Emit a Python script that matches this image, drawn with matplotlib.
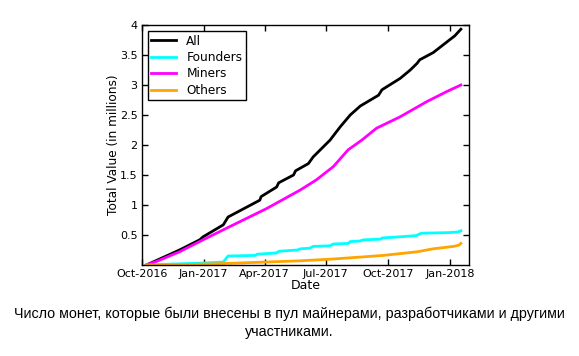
import matplotlib
matplotlib.use("Agg")
import matplotlib.pyplot as plt
import matplotlib.dates as mdates
import numpy as np
import pandas as pd

all_dates = ["2016-10-08", "2016-11-26", "2016-12-26", "2016-12-31", "2017-01-30", "2017-02-06",
             "2017-03-25", "2017-03-27", "2017-04-19", "2017-04-22", "2017-05-14", "2017-05-17",
             "2017-06-05", "2017-06-12", "2017-07-07", "2017-07-22", "2017-08-06", "2017-08-21",
             "2017-09-17", "2017-09-22", "2017-10-19", "2017-11-03", "2017-11-13", "2017-11-17",
             "2017-12-07", "2018-01-08", "2018-01-17"]
all_vals = [0.0, 0.25, 0.42, 0.47, 0.67, 0.80, 1.08, 1.14, 1.30, 1.37, 1.50, 1.57,
            1.69, 1.80, 2.08, 2.30, 2.50, 2.65, 2.83, 2.92, 3.11, 3.25, 3.36, 3.42,
            3.54, 3.82, 3.93]

miner_dates = ["2016-10-08", "2016-10-23", "2016-11-26", "2016-12-31", "2017-02-14", "2017-04-04",
               "2017-05-24", "2017-06-17", "2017-07-12", "2017-08-03", "2017-08-23", "2017-09-14",
               "2017-10-19", "2017-11-27", "2017-12-27", "2018-01-17"]
miner_vals = [0.0, 0.06, 0.22, 0.42, 0.67, 0.94, 1.25, 1.42, 1.64, 1.92, 2.08, 2.28,
              2.47, 2.72, 2.89, 3.00]

founder_dates = ["2016-10-08", "2016-11-26", "2016-12-26", "2017-01-30", "2017-02-06", "2017-03-19",
                 "2017-03-21", "2017-04-18", "2017-04-23", "2017-05-20", "2017-05-24", "2017-06-07",
                 "2017-06-12", "2017-07-07", "2017-07-12", "2017-08-03", "2017-08-06", "2017-08-20",
                 "2017-08-26", "2017-09-20", "2017-09-22", "2017-10-19", "2017-11-12", "2017-11-15",
                 "2017-11-20", "2017-12-30", "2018-01-12", "2018-01-17"]
founder_vals = [0.0, 0.02, 0.03, 0.05, 0.15, 0.16, 0.18, 0.20, 0.23, 0.25, 0.27, 0.28,
                0.31, 0.32, 0.35, 0.36, 0.39, 0.40, 0.42, 0.43, 0.45, 0.47, 0.49, 0.51,
                0.53, 0.54, 0.55, 0.57]

other_dates = ["2016-10-08", "2016-12-15", "2017-02-14", "2017-04-04", "2017-05-24", "2017-07-12",
               "2017-08-31", "2017-09-24", "2017-10-19", "2017-11-13", "2017-12-07", "2018-01-06",
               "2018-01-14", "2018-01-17"]
other_vals = [0.0, 0.01, 0.03, 0.05, 0.07, 0.10, 0.14, 0.16, 0.19, 0.22, 0.27, 0.31,
              0.33, 0.36]

x_ticks = ["2016-10-01", "2017-01-01", "2017-04-01", "2017-07-01", "2017-10-01", "2018-01-01"]
y_ticks = [0.5, 1, 1.5, 2, 2.5, 3, 3.5, 4]
y_tick_labels = ["0.5", "1", "1.5", "2", "2.5", "3", "3.5", "4"]
caption = ("Число монет, которые были внесены в пул майнерами, разработчиками и другими\n"
           "участниками.")

fig = plt.figure(figsize=(5.79, 3.56), dpi=100)
ax = fig.add_axes([0.2447, 0.2556, 0.8100 - 0.2447, 0.9298 - 0.2556])

ax.plot(pd.to_datetime(all_dates), all_vals, color="black", lw=2, label="All")
ax.plot(pd.to_datetime(founder_dates), founder_vals, color="cyan", lw=2, label="Founders")
ax.plot(pd.to_datetime(miner_dates), miner_vals, color="magenta", lw=2, label="Miners")
ax.plot(pd.to_datetime(other_dates), other_vals, color="orange", lw=2, label="Others")

ax.set_xlim(pd.Timestamp("2016-10-01"), pd.Timestamp("2018-01-29"))
ax.set_ylim(0, 4)
ax.set_xticks(pd.to_datetime(x_ticks))
ax.xaxis.set_major_formatter(mdates.DateFormatter("%b-%Y"))
ax.set_yticks(y_ticks)
ax.set_yticklabels(y_tick_labels)
ax.tick_params(direction="in", top=True, right=True, labelsize=8, length=4, width=1, pad=3)
for s in ax.spines.values():
    s.set_linewidth(1)
ax.set_xlabel("Date", fontsize=9, labelpad=0)
ax.set_ylabel("Total Value (in millions)", fontsize=8.7, labelpad=0)

leg = ax.legend(loc="upper left", fontsize=8.7, fancybox=False, framealpha=1,
                edgecolor="black", borderaxespad=0.5, handlelength=2.0,
                labelspacing=0.28, borderpad=0.3, handletextpad=0.9)
leg.get_frame().set_linewidth(1)

fig.text(0.5, 0.094, caption, ha="center", va="center", fontsize=10.3,
         family=["Liberation Sans", "DejaVu Sans"], linespacing=1.35)

fig.savefig("out.png", dpi=100)
